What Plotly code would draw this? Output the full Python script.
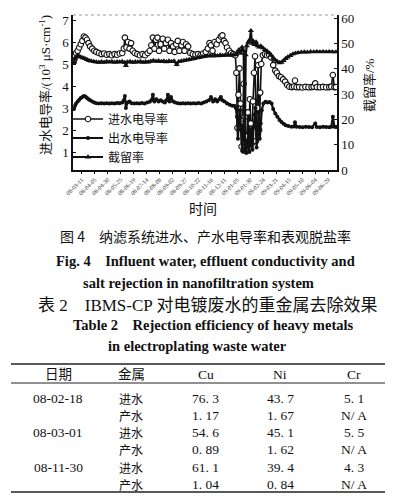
import plotly.graph_objects as go

# ---------------- data ----------------
# x = days after 2008-03-11
tick_labels = ["08-03-11", "08-04-05", "08-04-30", "08-05-25", "08-06-19", "08-07-14",
               "08-08-08", "08-09-02", "08-09-27", "08-10-22", "08-11-16", "08-12-11",
               "09-01-05", "09-01-30", "09-02-24", "09-03-21", "09-04-15", "09-05-10",
               "09-06-04", "09-06-29"]
tick_days = [25 * i for i in range(len(tick_labels))]

# influent conductivity (10^3 uS/cm)
influent_pts = [
    (-15, 5.15), (-13, 5.35), (-11, 5.5), (-8, 5.6), (-5, 5.75), (-2, 5.9), (1, 6.05), (4, 6.25),
    (7, 6.2), (10, 6.1), (13, 5.95), (16, 5.8), (20, 5.7), (24, 5.6), (28, 5.55), (33, 5.5),
    (38, 5.45), (43, 5.48), (48, 5.42), (53, 5.45), (58, 5.4), (63, 5.45), (68, 5.42), (73, 5.48),
    (78, 5.5), (81, 5.7), (83, 6.2), (86, 5.75), (89, 6.0), (92, 5.7), (95, 5.95), (98, 5.6),
    (102, 5.5), (107, 5.45), (112, 5.4), (117, 5.45), (122, 5.4), (127, 5.5), (131, 5.6), (134, 5.85),
    (137, 6.2), (140, 5.7), (143, 6.1), (146, 6.2), (149, 5.6), (152, 5.9), (156, 6.15), (159, 5.7),
    (162, 5.95), (166, 6.1), (169, 5.6), (172, 5.95), (176, 5.8), (179, 5.55), (182, 5.9), (185, 6.05),
    (188, 5.6), (192, 5.85), (195, 6.0), (198, 5.6), (201, 5.9), (205, 5.8), (209, 5.5), (214, 5.45),
    (219, 5.42), (224, 5.45), (229, 5.4), (234, 5.48), (239, 5.55), (243, 5.7), (246, 5.95), (249, 5.85),
    (252, 5.6), (256, 6.0), (260, 5.9), (264, 6.1), (268, 6.25), (271, 6.3), (274, 6.05), (277, 5.95),
    (280, 5.75), (284, 5.6), (288, 5.5), (292, 5.45), (296, 5.4),
    (298, 4.6), (300, 2.1), (302, 3.6), (304, 4.8), (306, 3.2), (308, 1.25), (310, 2.4), (312, 4.1),
    (314, 2.6), (316, 1.1), (318, 1.7), (320, 2.8), (322, 1.35), (324, 3.4), (326, 2.3), (328, 1.4),
    (330, 3.3), (332, 4.6), (334, 5.35), (336, 1.5), (338, 3.0), (340, 4.95), (342, 2.0), (344, 3.7),
    (346, 5.0),
    (349, 5.4), (353, 5.45), (357, 5.4), (361, 5.42), (365, 5.3), (369, 4.95), (373, 4.7), (376, 4.6),
    (380, 4.45), (384, 4.4), (388, 4.3), (392, 4.2), (396, 4.05), (400, 3.97), (405, 3.95), (409, 3.98),
    (411, 4.25), (414, 3.95), (419, 3.95), (425, 3.93), (431, 3.96), (437, 3.94), (443, 3.95), (447, 3.97),
    (450, 4.12), (453, 3.95), (459, 3.94), (465, 3.96), (471, 3.94), (477, 3.95), (481, 3.97), (484, 4.5),
    (487, 3.95), (490, 3.95),
]

# effluent conductivity (10^3 uS/cm)
effluent_pts = [
    (-15, 2.95), (-13, 3.1), (-11, 3.2), (-8, 3.3), (-5, 3.38), (-2, 3.45), (1, 3.5), (4, 3.55),
    (7, 3.52), (10, 3.45), (13, 3.4), (16, 3.35), (20, 3.3), (24, 3.25), (28, 3.22), (33, 3.2),
    (38, 3.22), (43, 3.2), (48, 3.22), (53, 3.2), (58, 3.22), (63, 3.2), (68, 3.23), (73, 3.22),
    (78, 3.25), (81, 3.35), (83, 3.55), (85, 3.0), (88, 3.25), (92, 3.3), (96, 3.22), (101, 3.2),
    (106, 3.22), (111, 3.2), (116, 3.23), (121, 3.2), (126, 3.25), (131, 3.28), (134, 3.35), (137, 3.6),
    (140, 3.3), (144, 3.4), (148, 3.3), (152, 3.35), (156, 3.3), (160, 3.25), (163, 3.35), (166, 3.6),
    (169, 3.3), (172, 3.5), (176, 3.3), (180, 3.25), (185, 3.22), (190, 3.2), (195, 3.22), (200, 3.2),
    (205, 3.22), (210, 3.2), (215, 3.22), (220, 3.2), (225, 3.23), (230, 3.2), (235, 3.25), (240, 3.3),
    (245, 3.35), (249, 3.5), (253, 3.3), (257, 3.4), (261, 3.3), (265, 3.4), (268, 3.5), (271, 3.35),
    (275, 3.3), (280, 3.2), (285, 3.15), (290, 3.1), (294, 3.1), (297, 3.0),
    (299, 2.6), (301, 1.6), (303, 2.5), (305, 2.9), (307, 2.0), (309, 1.05), (311, 1.7), (313, 2.4),
    (315, 1.5), (317, 0.95), (319, 1.3), (321, 1.9), (323, 1.0), (325, 2.0), (327, 1.5), (329, 1.1),
    (331, 2.1), (333, 2.7), (335, 3.0), (337, 1.2), (339, 1.8), (341, 2.8), (343, 1.6), (345, 2.3),
    (347, 2.9),
    (350, 3.2), (354, 3.28), (358, 3.25), (362, 3.27), (366, 3.2), (369, 2.95), (373, 2.75), (377, 2.6),
    (381, 2.45), (385, 2.36), (389, 2.28), (393, 2.22), (398, 2.18), (404, 2.15), (409, 2.16), (411, 2.35),
    (414, 2.15), (420, 2.14), (426, 2.13), (432, 2.15), (438, 2.14), (444, 2.13), (450, 2.3), (453, 2.14),
    (459, 2.13), (465, 2.15), (471, 2.14), (477, 2.13), (481, 2.15), (484, 2.6), (487, 2.15), (490, 2.14),
]

# salt rejection (%)
rejection_pts = [
    (-15, 42.5), (-13, 44.0), (-11, 44.8), (-8, 45.0), (-5, 44.8), (-2, 44.6), (2, 44.3), (6, 44.0),
    (10, 43.6), (14, 43.2), (18, 43.0), (23, 42.8), (28, 42.6), (33, 42.5), (38, 42.7), (43, 42.5),
    (48, 42.8), (53, 42.6), (58, 42.8), (63, 42.5), (68, 42.7), (73, 42.6), (78, 42.8), (83, 42.4),
    (85, 41.2), (88, 42.6), (93, 42.8), (98, 42.5), (103, 42.7), (108, 42.6), (113, 42.8), (118, 42.5),
    (123, 42.7), (128, 42.6), (133, 42.9), (138, 43.2), (143, 42.9), (148, 43.1), (153, 42.8), (158, 43.0),
    (163, 42.7), (168, 43.0), (173, 42.8), (178, 43.0), (183, 41.6), (187, 42.8), (192, 43.0), (197, 43.2),
    (202, 43.4), (207, 43.6), (212, 43.8), (217, 44.0), (222, 44.3), (227, 44.5), (232, 44.7), (237, 44.9),
    (242, 45.0), (247, 45.2), (252, 45.0), (257, 45.3), (262, 45.1), (267, 45.4), (272, 45.2), (277, 45.5),
    (282, 45.3), (287, 45.5), (292, 45.4), (297, 45.6),
    (300, 46.5), (303, 47.5), (306, 46.0), (309, 48.5), (312, 47.0), (314, 7.0), (316, 45.5), (318, 49.0),
    (321, 50.5), (324, 51.5), (326, 55.0), (328, 50.0), (330, 51.0), (333, 49.5), (336, 50.5), (339, 49.0),
    (342, 48.5), (345, 49.0),
    (349, 48.2), (353, 47.5), (357, 47.0), (361, 46.2), (365, 45.3), (369, 44.2), (373, 43.4), (377, 42.8),
    (381, 42.3), (385, 42.5), (389, 43.2), (393, 44.0), (397, 44.6), (402, 45.2), (407, 45.8), (412, 46.1),
    (417, 46.3), (423, 46.5), (429, 46.6), (435, 46.5), (441, 46.7), (447, 46.6), (453, 46.7), (459, 46.6),
    (465, 46.7), (471, 46.6), (477, 46.7), (483, 46.6), (490, 46.6),
]

left_ticks = [1, 2, 3, 4, 5, 6, 7]
right_ticks = [0, 10, 20, 30, 40, 50, 60]

# table 2
table_header = ["日期", "金属", "Cu", "Ni", "Cr"]
table_dates = ["08-02-18", "08-03-01", "08-11-30"]
table_streams = ["进水", "产水"]
cu_values = [76.3, 1.17, 54.6, 0.89, 61.1, 1.04]
ni_values = [43.7, 1.67, 45.1, 1.62, 39.4, 0.84]
cr_values = [5.1, None, 5.5, None, 4.3, None]

# ---------------- figure ----------------
W, H = 393, 498
OFFX, OFFY = 0, 8
SERIF = "Liberation Serif, Noto Sans CJK SC"
CJK = "Noto Sans CJK SC, Liberation Serif"


def px(x):
    return (x - OFFX) / W


def py(y):
    return 1 - (y - OFFY) / H


def unzip(pts):
    return [p[0] for p in pts], [p[1] for p in pts]


fig = go.Figure()

ix, iy = unzip(influent_pts)
ex, ey = unzip(effluent_pts)
rx, ry = unzip(rejection_pts)

fig.add_trace(go.Scatter(
    x=ix, y=iy, name="进水电导率", mode="lines+markers",
    line=dict(color="#111", width=1.6),
    marker=dict(symbol="circle", size=5.5, color="white", line=dict(color="#111", width=1.1)),
))
fig.add_trace(go.Scatter(
    x=ex, y=ey, name="出水电导率", mode="lines+markers",
    line=dict(color="#111", width=2.2),
    marker=dict(symbol="circle", size=4, color="#111"),
))
fig.add_trace(go.Scatter(
    x=rx, y=ry, name="截留率", mode="lines+markers", yaxis="y2",
    line=dict(color="#111", width=2.2),
    marker=dict(symbol="triangle-up", size=5.5, color="#111"),
))

x_dom = [px(65), px(329)]
y_dom = [py(170), py(15)]

fig.update_layout(
    width=W, height=H,
    margin=dict(l=0, r=0, t=0, b=0),
    paper_bgcolor="white", plot_bgcolor="white",
    font=dict(family=SERIF, color="#111"),
    xaxis=dict(
        domain=x_dom, range=[-17, 492],
        tickvals=tick_days, ticktext=tick_labels, tickangle=-45,
        tickfont=dict(size=6, family=SERIF, color="#333"),
        showline=True, linewidth=2, linecolor="#111",
        ticks="outside", ticklen=2, tickcolor="#111",
        showgrid=False, zeroline=False, automargin=False,
    ),
    yaxis=dict(
        domain=y_dom, range=[(174 - 170) / 22, (174 - 15) / 22],
        tickvals=left_ticks, tickfont=dict(size=13, family=SERIF),
        showline=True, linewidth=1.5, linecolor="#111",
        ticks="inside", ticklen=3, tickcolor="#111",
        showgrid=False, zeroline=False, automargin=False,
    ),
    yaxis2=dict(
        overlaying="y", side="right", anchor="x",
        range=[0, (170 - 15) / 2.533],
        tickvals=right_ticks, tickfont=dict(size=13, family=SERIF),
        showline=True, linewidth=1.5, linecolor="#111",
        ticks="inside", ticklen=3, tickcolor="#111",
        showgrid=False, zeroline=False, automargin=False,
    ),
    legend=dict(
        x=px(60), xanchor="left", y=py(138), yanchor="middle",
        bgcolor="rgba(0,0,0,0)", font=dict(size=12, family=CJK),
        tracegroupgap=0,
    ),
)

# dotted top frame line
fig.add_shape(type="line", xref="paper", yref="paper",
              x0=px(65), x1=px(329), y0=py(15), y1=py(15),
              line=dict(color="#999", width=1, dash="dot"))

annotations = []


def note(text, x, y, size, family=SERIF, angle=0, xanchor="center"):
    annotations.append(dict(
        text=text, x=px(x), y=py(y), xref="paper", yref="paper",
        xanchor=xanchor, yanchor="middle", showarrow=False, textangle=angle,
        font=dict(size=size, family=family, color="#111"),
    ))


# axis titles
note("进水电导率/(10<sup>3</sup> μS·cm<sup>-1</sup>)", 37, 85, 13, angle=-90)
note("截留率/%", 361, 85, 13, angle=-90)
note("时间", 195, 208, 14, family=CJK)

# captions
note("图 4　纳滤系统进水、产水电导率和表观脱盐率", 197, 236, 14, family=CJK)
note("<b>Fig. 4　Influent water, effluent conductivity and</b>", 197, 261, 14.5)
note("<b>salt rejection in nanofiltration system</b>", 190, 283, 14.5)
note("表 2　IBMS-CP 对电镀废水的重金属去除效果", 199, 305, 17)
note("<b>Table 2　Rejection efficiency of heavy metals</b>", 205, 325, 14.5)
note("<b>in electroplating waste water</b>", 189, 346, 14.5)

# table
col_x = [50, 123, 198, 272, 346]
header_y = 374
row_y = [398, 415, 432, 449, 467, 484]

for cx, h in zip(col_x, table_header):
    note(h, cx, header_y, 13.5)


def fmt(v):
    return "N/ A" if v is None else str(v).replace(".", ". ")


for i, ry_ in enumerate(row_y):
    if i % 2 == 0:
        note(table_dates[i // 2], col_x[0], ry_, 13.5)
    note(table_streams[i % 2], col_x[1], ry_, 12, family=CJK)
    note(fmt(cu_values[i]), col_x[2], ry_, 13.5)
    note(fmt(ni_values[i]), col_x[3], ry_, 13.5)
    note(fmt(cr_values[i]), col_x[4], ry_, 13.5)

fig.update_layout(annotations=annotations)

for yy, wd in [(364, 1.6), (383, 1.0), (492, 1.6)]:
    fig.add_shape(type="line", xref="paper", yref="paper",
                  x0=px(3), x1=px(384), y0=py(yy), y1=py(yy),
                  line=dict(color="#222", width=wd))

fig.write_html("out.html")
